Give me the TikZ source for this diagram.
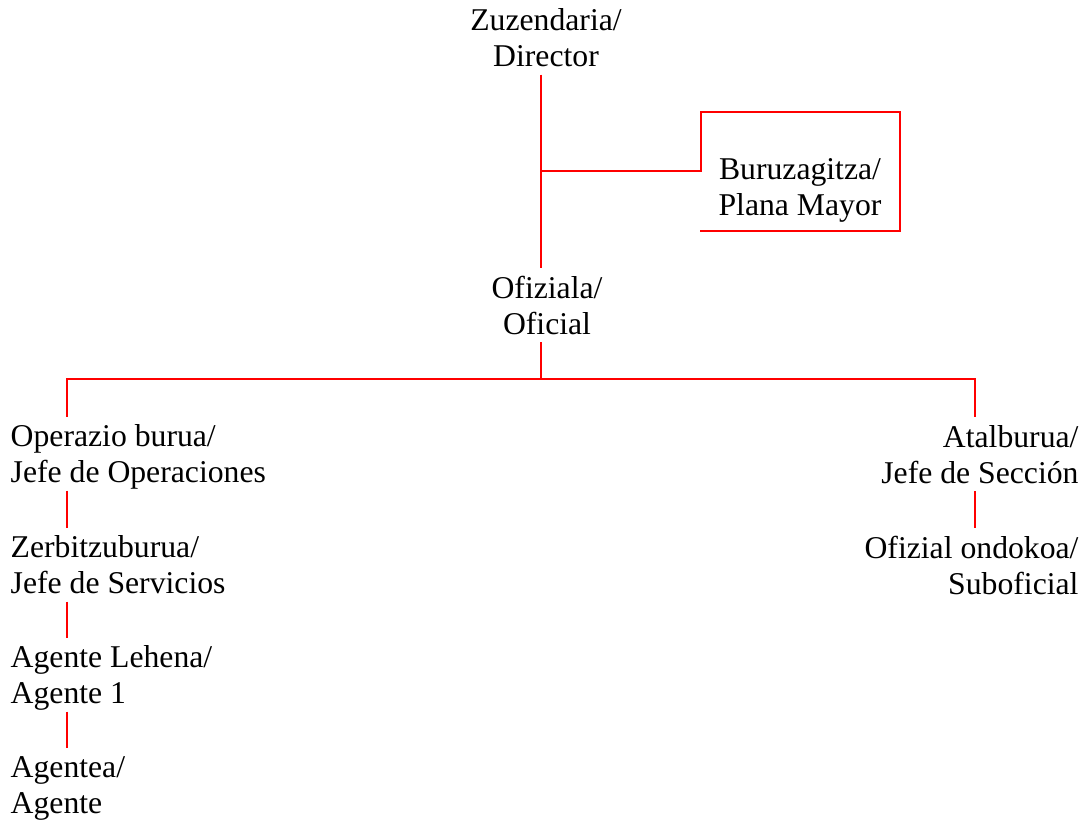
\documentclass[tikz,border=0pt]{standalone}
\usepackage{fontspec}
\setmainfont{Liberation Serif}
\newcommand{\mytop}{\rule{0pt}{30pt}}
\newcommand{\mybot}{\rule[-8pt]{0pt}{8pt}}
\begin{document}
\begin{tikzpicture}[x=1pt,y=-1pt,
  lbl/.style={inner sep=0pt, outer sep=0pt, font=\fontsize{31.7}{36}\selectfont},
  cen/.style={lbl, align=center, anchor=north},
  lft/.style={lbl, align=left, anchor=north west},
  rgt/.style={lbl, align=right, anchor=north east},
  conn/.style={draw=red, line width=2pt}]
\useasboundingbox (0,0) rectangle (1086,823);
% nodes
\node[cen] (dir) at (546,0.7) {\mytop Zuzendaria/\\Director\mybot};
\node[cen] (pm) at (800,149) {\mytop Buruzagitza/\\Plana Mayor\mybot};
\node[cen] (ofi) at (547,268.3) {\mytop Ofiziala/\\Oficial\mybot};
\node[lft] (ope) at (10.7,416.5) {\mytop Operazio burua/\\Jefe de Operaciones\mybot};
\node[lft] (zer) at (10.7,527.5) {\mytop Zerbitzuburua/\\Jefe de Servicios\mybot};
\node[lft] (agl) at (10.7,637.5) {\mytop Agente Lehena/\\Agente 1\mybot};
\node[lft] (age) at (10.7,747.5) {\mytop Agentea/\\Agente\mybot};
\node[rgt] (ata) at (1078.5,417) {\mytop Atalburua/\\Jefe de Secci\'on\mybot};
\node[rgt] (sub) at (1078.5,528) {\mytop Ofizial ondokoa/\\Suboficial\mybot};
\coordinate (j1) at (541,171);
\coordinate (bus) at (541,379);
% connectors
\draw[conn] ([xshift=-5pt]dir.south) -- ([xshift=-6pt]ofi.north);
\draw[conn] (j1) -| ([xshift=-17.5pt,yshift=37pt]pm.north west)
   -| ([xshift=18.5pt,yshift=-8pt]pm.south east)
   -- ([xshift=-18.5pt,yshift=-8pt]pm.south west);
\draw[conn] ([xshift=-6pt]ofi.south) -- (bus);
\draw[conn] ([xshift=56.3pt]ope.north west) |- (bus) -| ([xshift=-103.5pt]ata.north east);
\draw[conn] ([xshift=56.3pt]ope.south west) -- ([xshift=56.3pt]zer.north west);
\draw[conn] ([xshift=56.3pt]zer.south west) -- ([xshift=56.3pt]agl.north west);
\draw[conn] ([xshift=56.3pt]agl.south west) -- ([xshift=56.3pt]age.north west);
\draw[conn] ([xshift=-103.5pt]ata.south east) -- ([xshift=-103.5pt]sub.north east);
\end{tikzpicture}
\end{document}
